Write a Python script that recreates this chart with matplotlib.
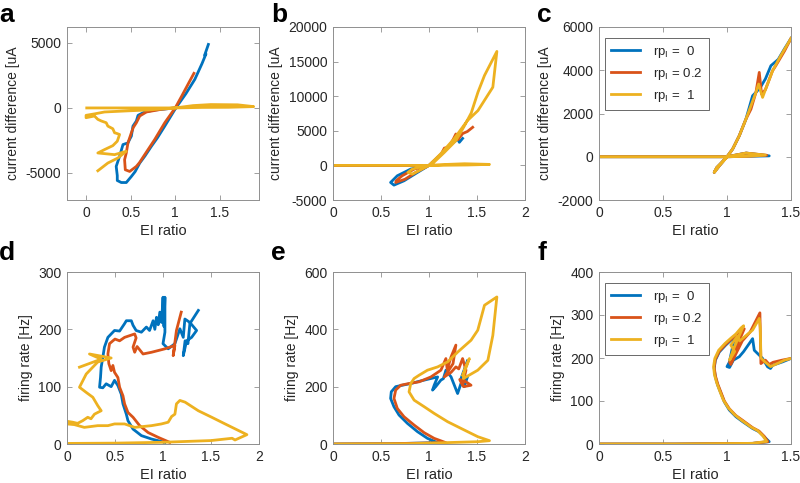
import matplotlib
matplotlib.use("Agg")
import matplotlib.pyplot as plt
from matplotlib.ticker import FuncFormatter

plt.rcParams['font.family'] = ['Liberation Sans', 'DejaVu Sans']
plt.rcParams['mathtext.fontset'] = 'custom'
plt.rcParams['mathtext.rm'] = 'Liberation Sans'

# ---------------- data ----------------
series_labels = [r'rp$_\mathrm{I}$ =  0', r'rp$_\mathrm{I}$ = 0.2', r'rp$_\mathrm{I}$ =  1']
colors = ['#0072BD', '#D95319', '#EDB120']

# panel a: current difference vs EI ratio
a_blue_x = [1.372, 1.33, 1.345, 1.30, 1.22, 1.12, 1.007, 0.883, 0.80, 0.733, 0.66, 0.602, 0.55, 0.508, 0.451, 0.395, 0.35, 0.35, 0.338, 0.376, 0.414, 0.47, 0.49, 0.508, 0.526, 0.564, 0.583, 0.658, 0.77, 1.0]
a_blue_y = [4884, 4050, 4150, 3400, 2200, 1100, 0, -1395, -2300, -2946, -3700, -4238, -4900, -5271, -5736, -5736, -5581, -5200, -4496, -3721, -2817, -2687, -2400, -2170, -1395, -1008, -568, -310, -155, 0]
a_red_x = [1.21, 1.15, 1.08, 1.0, 0.883, 0.77, 0.658, 0.60, 0.564, 0.489, 0.44, 0.432, 0.451, 0.47, 0.508, 0.53, 0.564, 0.602, 0.677, 0.846, 1.0]
a_red_y = [2662, 1900, 1000, 0, -1137, -2429, -3592, -4200, -4496, -4884, -4755, -3979, -3463, -2687, -1912, -1500, -1137, -620, -310, -103, 0]
a_yel_x = [0.132, 0.244, 0.357, 0.451, 0.32, 0.132, 0.207, 0.30, 0.35, 0.376, 0.34, 0.32, 0.30, 0.244, 0.226, 0.17, 0.132, 0.094, 0.0, 0.0, 0.10, 0.207, 0.45, 0.695, 1.0, 1.2, 1.4, 1.7, 1.88, 1.6, 1.3, 1.0, 0.5, 0.0075]
a_yel_y = [-4832, -4238, -3850, -3333, -3592, -3463, -3204, -2900, -2558, -2041, -1950, -1912, -1600, -1395, -1137, -1000, -879, -620, -750, -568, -450, -310, -230, -155, 0, 180, 260, 240, 103, 50, 40, 0, 0, 0]

# panel b
b_blue_x = [0.0, 1.0, 0.88, 0.74, 0.635, 0.60, 0.67, 0.81, 1.0, 1.12, 1.22, 1.30, 1.316, 1.35]
b_blue_y = [0, 0, -1014, -2222, -2850, -2463, -1497, -531, 0, 1500, 2900, 3816, 3333, 3900]
b_red_x = [0.0, 1.0, 0.87, 0.75, 0.653, 0.66, 0.72, 0.85, 1.0, 1.13, 1.16, 1.20, 1.25, 1.28, 1.30, 1.35, 1.40, 1.455]
b_red_y = [0, 0, -950, -2000, -2463, -2200, -1500, -500, 0, 1700, 2500, 2600, 3700, 4540, 3700, 4600, 4900, 5506]
b_yel_x = [0.0, 0.5, 1.0, 1.2, 1.37, 1.63, 1.4, 1.15, 1.0, 0.914, 0.827, 0.78, 0.827, 0.92, 1.0, 1.12, 1.26, 1.40, 1.51, 1.665, 1.707, 1.578, 1.51, 1.44, 1.37, 1.28, 1.16, 1.05, 1.0]
b_yel_y = [0, 0, 0, 150, 240, 145, 60, 20, 0, -628, -1256, -1014, -531, -200, 0, 1642, 3816, 6472, 7921, 11302, 16470, 12993, 10578, 7583, 5748, 3574, 1884, 435, 0]

# panel c
c_blue_x = [0.0, 0.5, 1.0, 1.15, 1.33, 1.15, 1.0, 0.94, 0.90, 0.92, 0.97, 1.0, 1.044, 1.096, 1.148, 1.20, 1.226, 1.26, 1.30, 1.343, 1.40, 1.45, 1.5]
c_blue_y = [0, 0, 0, 170, 40, 20, 0, -416, -725, -500, -200, 0, 355, 971, 1742, 2822, 2976, 3200, 3600, 4210, 4500, 5000, 5474]
c_red_x = [0.0, 0.5, 1.0, 1.15, 1.31, 1.15, 1.0, 0.94, 0.90, 0.92, 0.97, 1.0, 1.044, 1.096, 1.148, 1.187, 1.226, 1.252, 1.27, 1.30, 1.356, 1.38, 1.43, 1.45, 1.5]
c_red_y = [0, 0, 0, 170, 70, 20, 0, -416, -725, -500, -200, 0, 355, 971, 1742, 2200, 2976, 3901, 2900, 3100, 3978, 4200, 4700, 4900, 5474]
c_yel_x = [0.0, 0.5, 1.0, 1.148, 1.30, 1.15, 1.0, 0.94, 0.90, 0.92, 0.97, 1.0, 1.044, 1.096, 1.148, 1.187, 1.226, 1.247, 1.265, 1.278, 1.30, 1.356, 1.42, 1.5]
c_yel_y = [0, 0, 0, 170, 77, 20, 0, -416, -725, -500, -200, 0, 355, 971, 1742, 2359, 2976, 3362, 3000, 2745, 3100, 3978, 4672, 5474]

# panel d: firing rate vs EI ratio
d_blue_x = [1.02, 0.88, 0.775, 0.688, 0.635, 0.618, 0.583, 0.565, 0.53, 0.495, 0.46, 0.408, 0.373, 0.339, 0.349, 0.356, 0.373, 0.39, 0.426, 0.495, 0.548, 0.60, 0.618, 0.67, 0.688, 0.72, 0.775, 0.827, 0.86, 0.897, 0.915, 0.932, 0.95, 0.967, 0.985, 1.0, 1.01, 1.02, 1.02, 1.0, 1.054, 1.124, 1.176, 1.211, 1.228, 1.28, 1.35, 1.298, 1.246, 1.211, 1.23, 1.26, 1.28, 1.368]
d_blue_y = [2.9, 8.7, 14.6, 26, 40.7, 52, 70, 87, 102, 111, 100, 105, 98, 99, 116, 134, 151, 169, 186, 198, 197, 210, 215, 215, 207, 198, 195, 204, 198, 215, 200, 221, 208, 230, 212, 256, 205, 256, 195, 175, 166, 175, 201, 186, 218, 212, 198, 186, 180, 154, 180, 175, 210, 233]
d_red_x = [1.07, 0.95, 0.845, 0.757, 0.688, 0.635, 0.60, 0.583, 0.548, 0.53, 0.495, 0.478, 0.46, 0.436, 0.426, 0.443, 0.478, 0.50, 0.548, 0.60, 0.653, 0.705, 0.72, 0.688, 0.705, 0.73, 0.792, 0.88, 1.02, 1.124, 1.106, 1.14, 1.19]
d_red_y = [2.9, 11.6, 20, 32, 46.6, 55, 70, 84, 99, 116, 125, 137, 128, 140, 157, 175, 180, 183, 180, 186, 189, 192, 185, 169, 160, 170, 157, 160, 166, 172, 154, 198, 230]
d_yel_x = [0.0, 0.5, 1.0, 1.5, 1.72, 1.75, 1.874, 1.647, 1.508, 1.368, 1.23, 1.176, 1.14, 1.124, 1.09, 1.054, 0.984, 0.88, 0.705, 0.60, 0.495, 0.426, 0.32, 0.18, 0.077, 0.0, 0.0, 0.06, 0.11, 0.164, 0.216, 0.25, 0.286, 0.32, 0.356, 0.32, 0.269, 0.20, 0.13, 0.20, 0.32, 0.46, 0.234, 0.356, 0.13]
d_yel_y = [1, 1.5, 3, 6, 10, 7, 16.3, 35, 46.6, 58, 73, 76, 70, 52, 48, 38, 35, 32, 29, 35, 35, 32, 32, 29, 33.8, 35, 39.6, 38, 36, 40.7, 46.6, 44, 52, 55, 58, 67, 81.5, 90, 99, 122, 143, 150, 157, 148, 134]

# panel e
e_blue_x = [0.0, 0.6, 1.09, 0.984, 0.88, 0.775, 0.688, 0.635, 0.60, 0.607, 0.653, 0.722, 0.81, 0.914, 1.02, 1.09, 1.054, 1.037, 1.07, 1.124, 1.15, 1.176, 1.23, 1.298, 1.333, 1.368, 1.40, 1.36, 1.33, 1.40]
e_blue_y = [0, 1, 4.6, 19.7, 43, 72, 101, 130, 159, 182, 200, 205, 211, 220, 228.5, 234, 205, 188, 200, 223, 228, 257.5, 234, 176, 211, 200, 234, 220, 225, 290]
e_red_x = [0.0, 0.6, 1.176, 1.054, 0.95, 0.845, 0.74, 0.67, 0.635, 0.653, 0.705, 0.792, 0.897, 1.02, 1.124, 1.176, 1.19, 1.23, 1.28, 1.25, 1.16, 1.23, 1.28, 1.31, 1.35, 1.385, 1.35, 1.32, 1.385, 1.438, 1.36, 1.34]
e_red_y = [0, 1, 4.6, 19.7, 39.4, 66, 95, 124, 159, 188, 205, 211, 217, 234, 257.5, 298, 260, 304, 345, 280, 234, 250, 269, 262, 298, 257.5, 205, 225, 217, 205, 200, 215]
e_yel_x = [0.0, 0.8, 1.508, 1.63, 1.508, 1.368, 1.194, 1.054, 0.95, 0.845, 0.792, 0.81, 0.845, 0.897, 0.984, 1.09, 1.194, 1.30, 1.438, 1.508, 1.578, 1.707, 1.665, 1.613, 1.508, 1.358, 1.37, 1.42, 1.39, 1.35]
e_yel_y = [0, 1, 8, 11.6, 25.5, 48.7, 77.7, 106.7, 130, 153, 182, 211, 228.5, 240, 257.5, 269, 286.5, 321, 362, 397, 484, 513, 379, 292, 257.5, 228.5, 260, 298, 270, 240]

# panel f
f_blue_x = [0.0, 0.6, 1.2, 1.33, 1.29, 1.25, 1.20, 1.122, 1.07, 1.018, 0.979, 0.953, 0.927, 0.909, 0.90, 0.909, 0.94, 0.99, 1.03, 1.07, 1.05, 1.018, 1.0, 1.02, 1.05, 1.096, 1.13, 1.174, 1.20, 1.213, 1.278, 1.317, 1.34, 1.356, 1.395, 1.434, 1.5]
f_blue_y = [0, 0, 1.5, 5.4, 17, 28.6, 36, 52, 63.4, 79, 98, 117.6, 137, 156, 175.6, 195, 214, 230, 241, 245, 235, 190, 180, 178, 195, 203, 215, 233.7, 245, 218, 199, 179.5, 175.6, 183, 187, 191, 199]
f_red_x = [0.0, 0.6, 1.2, 1.32, 1.29, 1.25, 1.20, 1.122, 1.07, 1.018, 0.979, 0.953, 0.927, 0.909, 0.90, 0.909, 0.94, 0.99, 1.03, 1.07, 1.11, 1.135, 1.08, 1.02, 1.03, 1.07, 1.12, 1.18, 1.257, 1.265, 1.30, 1.33, 1.36, 1.43, 1.5]
f_red_y = [0, 0, 1.5, 5.4, 18, 30, 38, 55, 66, 82, 100, 120, 140, 159, 178, 197, 216, 232, 243, 253, 264.6, 268, 230, 190, 185, 210, 240, 260, 305, 187, 195, 185, 190, 195, 199]
f_yel_x = [0.0, 0.6, 1.2, 1.31, 1.28, 1.24, 1.19, 1.11, 1.06, 1.01, 0.972, 0.945, 0.92, 0.902, 0.895, 0.905, 0.935, 0.985, 1.03, 1.07, 1.11, 1.13, 1.10, 1.05, 1.02, 1.06, 1.03, 1.08, 1.10, 1.14, 1.20, 1.252, 1.26, 1.265, 1.30, 1.34, 1.40, 1.45, 1.5]
f_yel_y = [0, 0, 1.5, 6, 19, 31, 39, 56, 68, 84, 102, 122, 142, 161, 180, 199, 218, 234, 246, 256, 270, 275, 255, 220, 195, 215, 230, 250, 240, 250, 265, 292, 270, 200, 190, 180, 188, 195, 199]

panels = [
    dict(letter='a', xs=[a_blue_x, a_red_x, a_yel_x], ys=[a_blue_y, a_red_y, a_yel_y],
         xlim=(-0.214, 1.94), ylim=(-7080, 6225), xt=[0, 0.5, 1, 1.5], yt=[-5000, 0, 5000],
         ylabel='current difference [uA', legend=False),
    dict(letter='b', xs=[b_blue_x, b_red_x, b_yel_x], ys=[b_blue_y, b_red_y, b_yel_y],
         xlim=(0, 2), ylim=(-5000, 20000), xt=[0, 0.5, 1, 1.5, 2], yt=[-5000, 0, 5000, 10000, 15000, 20000],
         ylabel='current difference [uA', legend=False),
    dict(letter='c', xs=[c_blue_x, c_red_x, c_yel_x], ys=[c_blue_y, c_red_y, c_yel_y],
         xlim=(0, 1.5), ylim=(-2000, 6000), xt=[0, 0.5, 1, 1.5], yt=[-2000, 0, 2000, 4000, 6000],
         ylabel='current difference [uA', legend=True),
    dict(letter='d', xs=[d_blue_x, d_red_x, d_yel_x], ys=[d_blue_y, d_red_y, d_yel_y],
         xlim=(0, 2), ylim=(0, 300), xt=[0, 0.5, 1, 1.5, 2], yt=[0, 100, 200, 300],
         ylabel='firing rate [Hz]', legend=False),
    dict(letter='e', xs=[e_blue_x, e_red_x, e_yel_x], ys=[e_blue_y, e_red_y, e_yel_y],
         xlim=(0, 2), ylim=(0, 600), xt=[0, 0.5, 1, 1.5, 2], yt=[0, 200, 400, 600],
         ylabel='firing rate [Hz]', legend=False),
    dict(letter='f', xs=[f_blue_x, f_red_x, f_yel_x], ys=[f_blue_y, f_red_y, f_yel_y],
         xlim=(0, 1.5), ylim=(0, 400), xt=[0, 0.5, 1, 1.5], yt=[0, 100, 200, 300, 400],
         ylabel='firing rate [Hz]', legend=True),
]

W, H = 800, 483
fig = plt.figure(figsize=(W / 100, H / 100), dpi=100)

lefts = [67, 333, 599]
row_tops = [27, 272]
row_bots = [200, 444]
ax_w = 192
letter_x = [-1, 271, 537]
letter_y = [22, 260]

fmt = FuncFormatter(lambda v, p: '%g' % v)
spine_col = '#8f8f8f'
text_col = '#262626'

for i, p in enumerate(panels):
    r, c = divmod(i, 3)
    l = lefts[c] / W
    b = 1 - row_bots[r] / H
    h = (row_bots[r] - row_tops[r]) / H
    ax = fig.add_axes([l, b, ax_w / W, h])
    for k in range(3):
        ax.plot(p['xs'][k], p['ys'][k], color=colors[k], lw=2.0,
                solid_joinstyle='round', label=series_labels[k])
    ax.set_xlim(*p['xlim'])
    ax.set_ylim(*p['ylim'])
    ax.set_xticks(p['xt'])
    ax.set_yticks(p['yt'])
    ax.xaxis.set_major_formatter(fmt)
    ax.yaxis.set_major_formatter(fmt)
    ax.tick_params(direction='in', length=3.5, width=0.6, colors=spine_col,
                   labelcolor=text_col, labelsize=10, top=True, right=True, pad=4)
    for s in ax.spines.values():
        s.set_color(spine_col)
        s.set_linewidth(0.7)
    ax.set_xlabel('EI ratio', fontsize=10.5, color=text_col, labelpad=3)
    ax.set_ylabel(p['ylabel'], fontsize=10, color=text_col, labelpad=4)
    if p['legend']:
        leg = ax.legend(loc='upper left', bbox_to_anchor=(6 / ax_w, 1 - 11 / (row_bots[r] - row_tops[r])),
                        borderaxespad=0, fontsize=9.5, frameon=True, fancybox=False,
                        handlelength=2.2, handletextpad=1.0, labelspacing=0.45,
                        borderpad=0.45)
        leg.get_frame().set_edgecolor('#262626')
        leg.get_frame().set_linewidth(0.6)
        for t in leg.get_texts():
            t.set_color(text_col)
    fig.text(letter_x[c] / W, 1 - letter_y[r] / H, p['letter'], fontsize=19,
             fontweight='bold', color='black', ha='left', va='baseline')

fig.savefig('out.png', dpi=100)
